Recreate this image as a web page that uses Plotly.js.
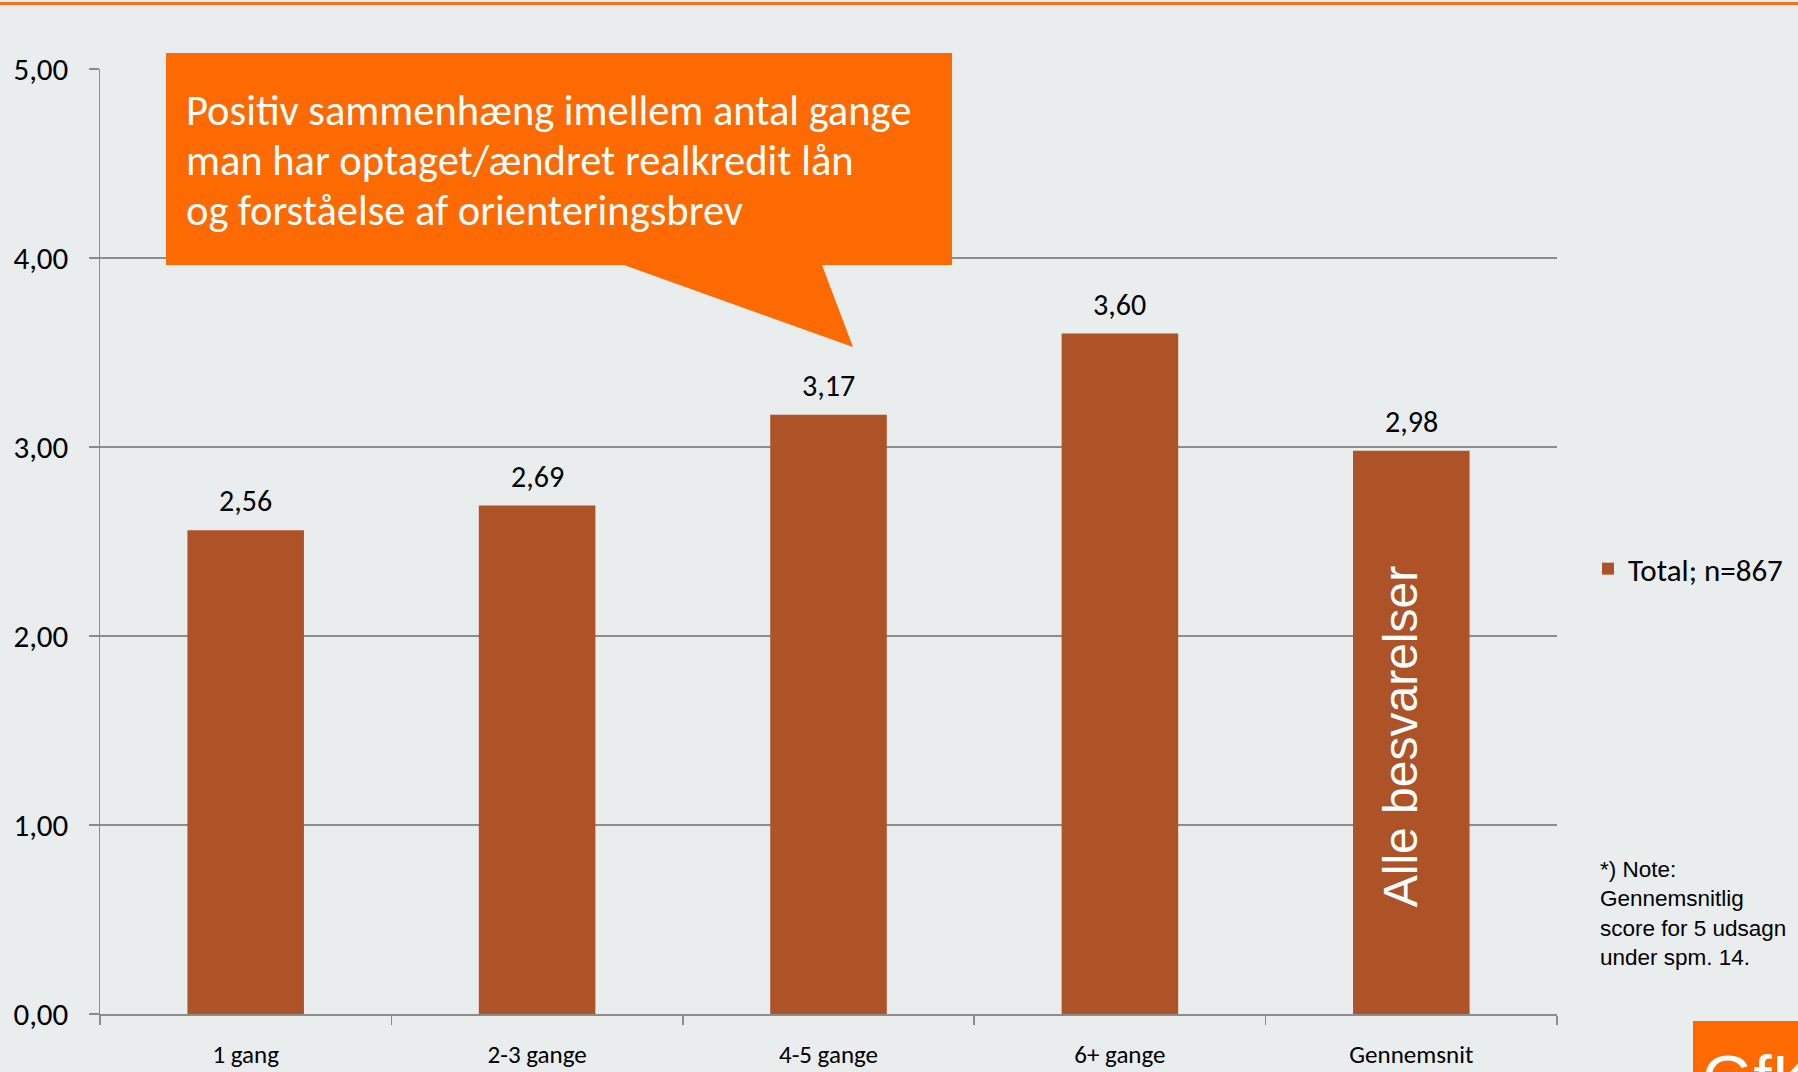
<!DOCTYPE html>
<html>
<head>
<meta charset="utf-8">
<script src="https://cdn.plot.ly/plotly-3.0.1.min.js"></script>
<style>
html,body{margin:0;padding:0;background:#E9EDEE;}
#chart{width:1798px;height:1072px;}
</style>
</head>
<body>
<div id="chart"></div>
<script>
// ---- data ----
const categories = ['1 gang', '2-3 gange', '4-5 gange', '6+ gange', 'Gennemsnit'];
const values = [2.56, 2.69, 3.17, 3.60, 2.98];
const seriesName = 'Total; n=867';
const yTicks = [0, 1, 2, 3, 4, 5];
const calloutLines = [
  'Positiv sammenhæng imellem antal gange',
  'man har optaget/ændret realkredit lån',
  'og forståelse af orienteringsbrev'
];
const barNote = 'Alle besvarelser';
const noteText = '*) Note:<br>Gennemsnitlig<br>score for 5 udsagn<br>under spm. 14.';
const logoText = 'GfK';

// ---- layout helpers (pixel -> paper) ----
const W = 1798, H = 1072, L = 100, R = 1557, T = 69, B = 1014;
const px = x => (x - L) / (R - L);
const py = y => (B - y) / (B - T);

const FONT = 'Carlito, Lato, sans-serif';
const ARIAL = 'Liberation Sans, Arial, sans-serif';
const ORANGE = '#FD6A02';
const BAR = '#AE5228';
const GRID = '#8C8C8C';
const BG = '#E9EDEE';

const bar = {
  type: 'bar',
  x: categories,
  y: values,
  name: seriesName,
  marker: {color: BAR, line: {width: 0}},
  hoverinfo: 'skip'
};

const labelAnns = categories.map((c, i) => ({
  x: c, y: values[i], xref: 'x', yref: 'y',
  text: values[i].toFixed(2).replace('.', ','),
  showarrow: false, yanchor: 'bottom', yshift: 9,
  font: {family: FONT, size: 30, color: '#000'}
}));

const calloutPath = 'M ' + [
  [166, 53], [952, 53], [952, 265], [822, 265], [853, 347], [624, 265], [166, 265]
].map(p => px(p[0]) + ',' + py(p[1])).join(' L ') + ' Z';

const calloutY = [111, 161, 211];
const calloutAnns = calloutLines.map((t, i) => ({
  xref: 'paper', yref: 'paper', x: px(184), y: py(calloutY[i]),
  xanchor: 'left', yanchor: 'middle',
  text: t, showarrow: false, align: 'left',
  font: {family: FONT, size: 42.5, color: '#FFFFFF'}
}));

const layout = {
  width: W, height: H,
  paper_bgcolor: BG, plot_bgcolor: BG,
  margin: {l: L, r: W - R, t: T, b: H - B, pad: 0, autoexpand: false},
  separators: ',.',
  bargap: 0.6,
  showlegend: true,
  legend: {
    x: px(1588), y: py(569), xanchor: 'left', yanchor: 'middle',
    bgcolor: 'rgba(0,0,0,0)',
    font: {family: FONT, size: 31, color: '#000'}
  },
  xaxis: {
    type: 'category',
    showline: true, linecolor: GRID, linewidth: 1.5,
    ticks: 'outside', tickson: 'boundaries', ticklen: 9, tickcolor: GRID, tickwidth: 1.5,
    showgrid: false,
    tickfont: {family: FONT, size: 25, color: '#000'},
    ticklabelstandoff: 17,
    automargin: false,
    fixedrange: true
  },
  yaxis: {
    range: [0, 5],
    tickvals: yTicks,
    tickformat: '.2f',
    showline: true, linecolor: GRID, linewidth: 1.5,
    ticks: 'outside', ticklen: 10, tickcolor: GRID, tickwidth: 1.5,
    showgrid: true, gridcolor: GRID, gridwidth: 1.5,
    zeroline: false,
    tickfont: {family: FONT, size: 31, color: '#000'},
    ticklabelstandoff: 14,
    automargin: false,
    fixedrange: true
  },
  shapes: [
    {type: 'line', xref: 'paper', yref: 'paper', x0: px(0), x1: px(W), y0: py(3.5), y1: py(3.5),
     line: {color: '#F5701E', width: 3}},
    {type: 'path', xref: 'paper', yref: 'paper', path: calloutPath,
     fillcolor: ORANGE, line: {width: 0}, layer: 'above'},
    {type: 'rect', xref: 'paper', yref: 'paper', x0: px(1693), x1: px(1810), y0: py(1021), y1: py(1090),
     fillcolor: ORANGE, line: {width: 0}}
  ],
  annotations: labelAnns.concat(calloutAnns).concat([
    {xref: 'x', yref: 'paper', x: categories[4], y: py(736), xshift: -11,
     xanchor: 'center', yanchor: 'middle',
     text: barNote, textangle: -90, showarrow: false,
     font: {family: ARIAL, size: 48, color: '#FFFFFF'}},
    {xref: 'paper', yref: 'paper', x: px(1598), y: py(855), xanchor: 'left', yanchor: 'top',
     text: noteText, showarrow: false, align: 'left',
     font: {family: ARIAL, size: 22.5, color: '#000'}},
    {xref: 'paper', yref: 'paper', x: px(1700), y: py(1040), xanchor: 'left', yanchor: 'top',
     text: logoText, showarrow: false, align: 'left',
     font: {family: ARIAL, size: 66, color: '#FFFFFF'}}
  ])
};

Plotly.newPlot('chart', [bar], layout, {staticPlot: true, displayModeBar: false});
</script>
</body>
</html>
